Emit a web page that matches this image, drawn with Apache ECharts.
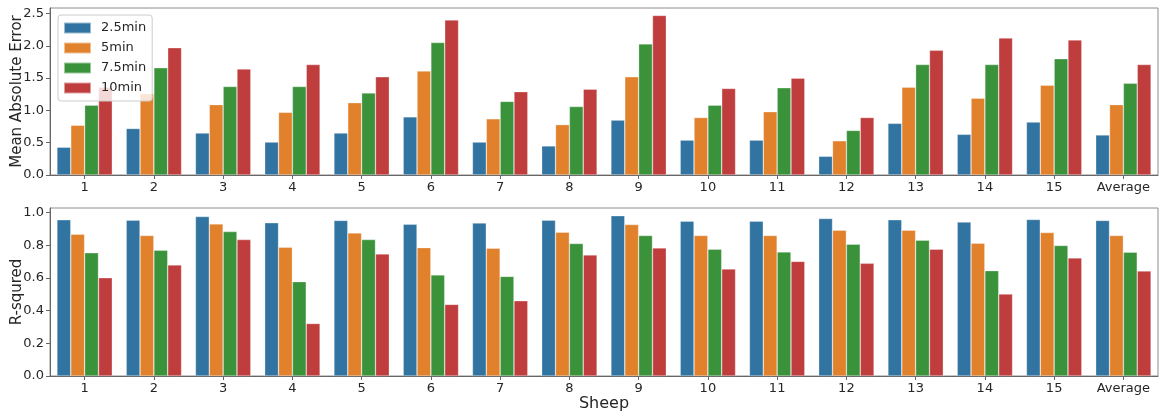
<!DOCTYPE html>
<html>
<head>
<meta charset="utf-8">
<script src="https://cdn.jsdelivr.net/npm/echarts@6/dist/echarts.min.js"></script>
<style>html,body{margin:0;padding:0;background:#fff;}#c{width:1163px;height:418px;}</style>
</head>
<body>
<div id="c"></div>
<script>
var categories = ['1','2','3','4','5','6','7','8','9','10','11','12','13','14','15','Average'];
var seriesNames = ['2.5min','5min','7.5min','10min'];
var colors = ['#3274a1','#e1812c','#3a923a','#c03d3e'];

var mae_2_5 = [0.43,0.72,0.65,0.51,0.65,0.90,0.51,0.45,0.85,0.54,0.54,0.29,0.80,0.63,0.82,0.62];
var mae_5   = [0.77,1.26,1.09,0.97,1.12,1.61,0.87,0.78,1.52,0.89,0.98,0.53,1.36,1.19,1.39,1.09];
var mae_7_5 = [1.08,1.66,1.37,1.37,1.27,2.05,1.14,1.06,2.03,1.08,1.35,0.69,1.71,1.71,1.80,1.42];
var mae_10  = [1.36,1.97,1.64,1.71,1.52,2.40,1.29,1.33,2.47,1.34,1.50,0.89,1.93,2.12,2.09,1.71];

var r2_2_5 = [0.955,0.953,0.975,0.937,0.951,0.928,0.935,0.953,0.980,0.947,0.947,0.963,0.955,0.941,0.957,0.951];
var r2_5   = [0.867,0.859,0.930,0.787,0.875,0.785,0.781,0.879,0.926,0.859,0.859,0.892,0.892,0.812,0.877,0.859];
var r2_7_5 = [0.753,0.769,0.883,0.577,0.834,0.618,0.609,0.810,0.859,0.775,0.759,0.806,0.830,0.644,0.798,0.757];
var r2_10  = [0.601,0.679,0.834,0.321,0.746,0.438,0.460,0.740,0.783,0.654,0.701,0.689,0.775,0.501,0.722,0.642];

var maeTicks = [0,0.5,1.0,1.5,2.0,2.5];
var r2Ticks = [0,0.2,0.4,0.6,0.8,1.0];

var maeData = [mae_2_5, mae_5, mae_7_5, mae_10];
var r2Data = [r2_2_5, r2_5, r2_7_5, r2_10];

var font = 'DejaVu Sans';
var txt = '#262626';
var spine = '#8c8c8c';

function xAx(gi, name) {
  return {
    type: 'category', gridIndex: gi, data: categories,
    boundaryGap: true,
    axisLine: {show: true, lineStyle: {color: '#666', width: 1}},
    axisTick: {show: true, alignWithLabel: true, length: 4, lineStyle: {color: '#666'}},
    axisLabel: {fontFamily: font, fontSize: 13, color: txt, margin: 6, interval: 0},
    splitLine: {show: false},
    name: name || '', nameLocation: 'middle', nameGap: 20,
    nameTextStyle: {fontFamily: font, fontSize: 16, color: txt}
  };
}
function yAx(gi, max, ticks, name, gap) {
  return {
    type: 'value', gridIndex: gi, min: 0, max: max,
    axisLine: {show: true, lineStyle: {color: '#666', width: 1}},
    axisTick: {show: true, length: 4, lineStyle: {color: '#666'}, customValues: ticks},
    axisLabel: {fontFamily: font, fontSize: 13, color: txt, margin: 6, customValues: ticks,
      formatter: function (v) { return v.toFixed(1); }},
    splitLine: {show: false},
    name: name, nameLocation: 'middle', nameGap: gap, nameRotate: 90,
    nameMoveOverlap: false,
    nameTextStyle: {fontFamily: font, fontSize: 15, color: txt}
  };
}

var series = [];
for (var i = 0; i < 4; i++) {
  series.push({
    type: 'bar', name: seriesNames[i], xAxisIndex: 0, yAxisIndex: 0,
    data: maeData[i], barGap: '0%', barCategoryGap: '20%',
    itemStyle: {color: colors[i], borderColor: 'rgba(255,255,255,0.5)', borderWidth: 0.6},
    emphasis: {disabled: true}, z: 2
  });
}
for (var j = 0; j < 4; j++) {
  series.push({
    type: 'bar', name: seriesNames[j], xAxisIndex: 1, yAxisIndex: 1,
    data: r2Data[j], barGap: '0%', barCategoryGap: '20%',
    itemStyle: {color: colors[j], borderColor: 'rgba(255,255,255,0.5)', borderWidth: 0.6},
    emphasis: {disabled: true}, z: 2
  });
}

var chart = echarts.init(document.getElementById('c'), null, {renderer: 'canvas'});
chart.setOption({
  animation: false,
  backgroundColor: '#fff',
  color: colors,
  grid: [
    {left: 50, top: 8, width: 1108, height: 167, show: true, borderColor: spine, borderWidth: 1, backgroundColor: 'transparent', containLabel: false, outerBoundsMode: 'none'},
    {left: 50, top: 208, width: 1108, height: 168, show: true, borderColor: spine, borderWidth: 1, backgroundColor: 'transparent', containLabel: false, outerBoundsMode: 'none'}
  ],
  xAxis: [xAx(0), xAx(1, 'Sheep')],
  yAxis: [yAx(0, 2.585, maeTicks, 'Mean Absolute Error', 25), yAx(1, 1.027, r2Ticks, 'R-squred', 25)],
  legend: {
    show: true, orient: 'vertical', left: 58, top: 15,
    data: seriesNames,
    itemWidth: 27, itemHeight: 11, itemGap: 4,
    icon: 'rect',
    backgroundColor: 'rgba(255,255,255,0.8)',
    borderColor: '#cccccc', borderWidth: 1, borderRadius: 3,
    padding: [5, 6, 5, 5],
    textStyle: {fontFamily: font, fontSize: 13, color: txt, lineHeight: 16, padding: [0, 0, 0, 5]},
    z: 10
  },
  series: series
});
</script>
</body>
</html>
